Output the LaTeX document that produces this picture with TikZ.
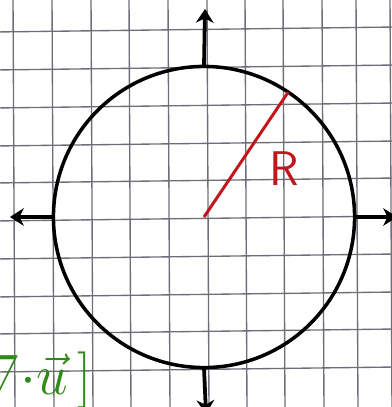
\documentclass[tikz,border=0pt]{standalone}
\usepackage{amsmath,amssymb}
\usepackage{tikz}
\usetikzlibrary{arrows.meta,positioning,calc}
\definecolor{GridGray}{HTML}{6E6E78}
\definecolor{InkRed}{HTML}{C0161C}
\definecolor{InkGreen}{HTML}{2F8A17}

\begin{document}
\begin{tikzpicture}[x=0.026cm,y=-0.026cm,every node/.style={inner sep=0pt,outer sep=0pt}]
    \tikzset{gridline/.style={GridGray,line width=1pt},
      ring/.style={circle,draw,line width=2.6pt,minimum size=7.83cm},
      outarrow/.style={-{Stealth[length=3.6mm,width=4.6mm]},line width=2.8pt}}
    \useasboundingbox (0,0) rectangle (391,407);
    % squared paper
    \foreach \gx in {13,52,91,129,168,207,245,283,322,356,390}{\draw[gridline] (\gx,-5) -- ++(2,417);}
    \foreach \gy in {32,70,108,146,183,221,259,297,334,372}{\draw[gridline] (-5,\gy) -- ++(401,-5);}
    \node[ring] (circ) at (204,217) {};
    \coordinate (O) at (circ.center);
    \coordinate (tN) at (205,9);
    \coordinate (tW) at (10,217);
    \coordinate (tE) at (397,217);
    \coordinate (tS) at (206,414);
    \foreach \a/\t in {north/tN,west/tW,east/tE,south/tS}{\draw[outarrow] (circ.\a) -- (\t);}
    \draw[InkRed,line width=2.2pt] (O) -- (circ.56);
    \node[InkRed,font=\fontsize{36}{36}\selectfont\sffamily] (R) at (284,169) {R};
    \node[InkGreen,font=\Huge,scale=1.69,anchor=base east] (divu) at (92,394) {$\nabla{\cdot}\vec{u}\mkern3mu]$};
\end{tikzpicture}
\end{document}
